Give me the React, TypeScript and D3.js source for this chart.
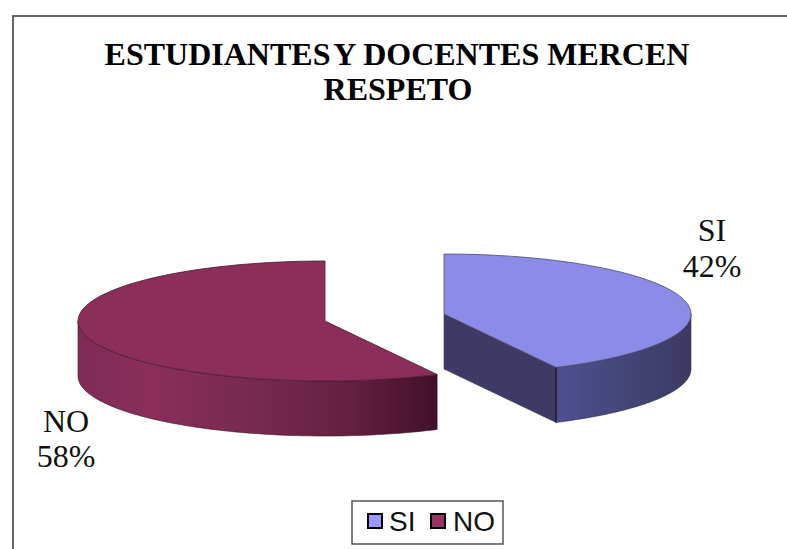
import React from "react";
import * as d3 from "d3";

const categories = ["SI", "NO"];
const values = [42.5, 57.5];
const labels = ["42%", "58%"];
const topColors = ["#8c8ce8", "#8b2e5a"];
const swatchColors = ["#9999ff", "#993366"];
const titleFirst = ["ESTUDIANTES", "Y DOCENTES MERCEN"];
const titleSecond = "RESPETO";

const W = 787, H = 549;
const rx = 247, ry = 60, depth = 55;
const centers: [number, number][] = [[444, 314], [325, 321]];

const pt = (c: [number, number], t: number, dy = 0): [number, number] => [
  c[0] + rx * Math.sin(t),
  c[1] - ry * Math.cos(t) + dy,
];
const arcPts = (c: [number, number], a: number, b: number, dy = 0) =>
  d3.range(0, 81).map((i) => pt(c, a + ((b - a) * i) / 80, dy));
const line = d3.line();

export default function App() {
  const pie = d3.pie<number>().sort(null)(values);
  const si = pie[0], no = pie[1];
  const cS = centers[0], cN = centers[1];
  const siRight = Math.PI / 2;
  const noLeft = (3 * Math.PI) / 2;

  const siTop = line([cS, ...arcPts(cS, si.startAngle, si.endAngle)]) + "Z";
  const noTop = line([cN, ...arcPts(cN, no.startAngle, no.endAngle)]) + "Z";
  const siWall = line([...arcPts(cS, siRight, si.endAngle), ...arcPts(cS, si.endAngle, siRight, depth)]) + "Z";
  const noWall = line([...arcPts(cN, no.startAngle, noLeft), ...arcPts(cN, noLeft, no.startAngle, depth)]) + "Z";
  const apex = pt(cS, si.endAngle);
  const siCut = line([cS, apex, [apex[0], apex[1] + depth], [cS[0], cS[1] + depth]]) + "Z";

  return (
    <svg width={W} height={H} style={{ position: "absolute", left: 0, top: 0, background: "#fff" }}>
      <defs>
        <linearGradient id="siG" gradientUnits="userSpaceOnUse" x1={557} x2={690} y1={0} y2={0}>
          <stop offset="0" stopColor="#4f5090" />
          <stop offset="0.45" stopColor="#45467a" />
          <stop offset="1" stopColor="#3c3a62" />
        </linearGradient>
        <linearGradient id="noG" gradientUnits="userSpaceOnUse" x1={78} x2={437} y1={0} y2={0}>
          <stop offset="0" stopColor="#7e2b55" />
          <stop offset="0.2" stopColor="#8b2e5a" />
          <stop offset="0.5" stopColor="#752a50" />
          <stop offset="0.75" stopColor="#64203f" />
          <stop offset="1" stopColor="#42102a" />
        </linearGradient>
      </defs>
      <path d={`M13,${H}V16H${W}`} fill="none" stroke="#666" strokeWidth={2} />
      <g fontFamily="'Liberation Serif', serif" fontWeight="bold" fontSize={32} textAnchor="middle" fill="#000">
        <text x={397} y={65}>
          {titleFirst[0]}
          <tspan dx={-4}> {titleFirst[1]}</tspan>
        </text>
        <text x={398} y={100}>{titleSecond}</text>
      </g>
      <path d={noWall} fill="url(#noG)" stroke="#3a1025" strokeWidth={0.6} />
      <path d={noTop} fill={topColors[1]} stroke="#4a1a30" strokeWidth={0.8} />
      <path d={siCut} fill="#3d3a63" stroke="#3a3a60" strokeWidth={0.6} />
      <path d={siWall} fill="url(#siG)" stroke="#2e2e50" strokeWidth={0.6} />
      <path d={siTop} fill={topColors[0]} stroke="#4a4a70" strokeWidth={0.8} />
      <line x1={apex[0]} x2={apex[0]} y1={apex[1]} y2={apex[1] + depth} stroke="#111" strokeWidth={1} />
      <g fontFamily="'Liberation Serif', serif" fontSize={32} textAnchor="middle" fill="#111">
        <text x={712} y={241}>{categories[0]}</text>
        <text x={712} y={277}>{labels[0]}</text>
        <text x={66} y={432}>{categories[1]}</text>
        <text x={66} y={467}>{labels[1]}</text>
      </g>
      <rect x={352} y={501} width={151} height={43} fill="#fff" stroke="#555" strokeWidth={1.5} />
      <g fontFamily="'Liberation Sans', sans-serif" fontSize={28} fill="#111">
        {categories.map((c, i) => {
          const sx = [368, 431][i];
          const tx = [389, 453][i];
          return (
            <g key={c}>
              <rect x={sx} y={514} width={14} height={14} fill={swatchColors[i]} stroke="#000" strokeWidth={2} />
              <text x={tx} y={531}>{c}</text>
            </g>
          );
        })}
      </g>
    </svg>
  );
}
